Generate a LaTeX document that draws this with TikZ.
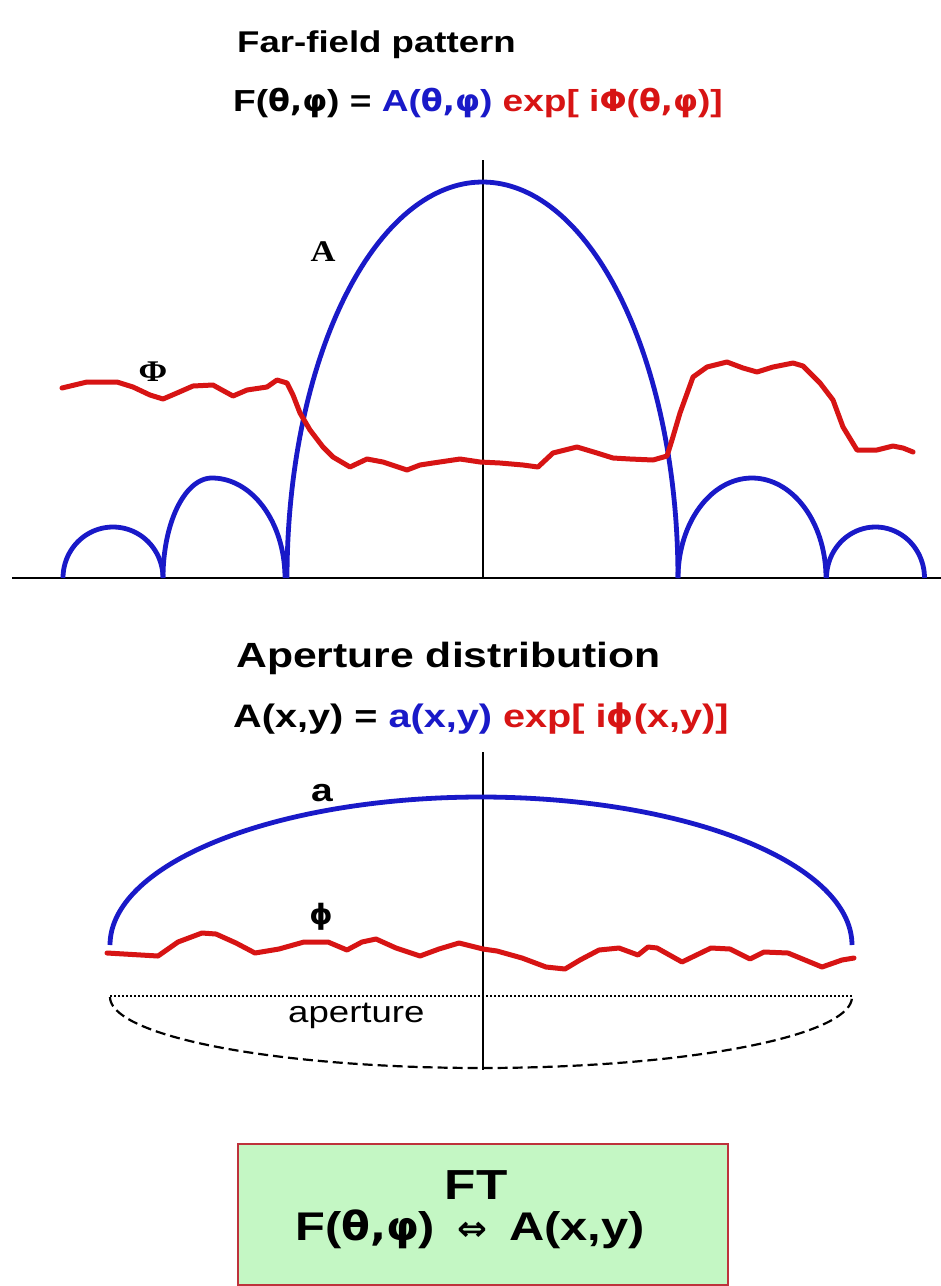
\documentclass[tikz,border=0pt]{standalone}
\usepackage{fontspec}
\setmainfont{Liberation Sans}[FakeStretch=1.22]
\newfontfamily\grk{DejaVu Sans}[FakeStretch=1.05]
\newfontfamily\serifb{Liberation Serif}[FakeStretch=1.15]
\newcommand\gk[1]{{\grk #1}}
\definecolor{cblue}{RGB}{25,25,200}
\definecolor{cred}{RGB}{215,20,20}
\definecolor{boxgreen}{RGB}{196,247,196}
\definecolor{boxred}{RGB}{190,50,60}
\begin{document}
\begin{tikzpicture}[x=1pt,y=-1pt,
  txt/.style={inner sep=0pt, font=\fontsize{32}{38}\selectfont\bfseries, anchor=base west},
  lbl/.style={inner sep=0pt, font=\fontsize{30}{36}\selectfont\serifb\bfseries, anchor=base},
  bluecurve/.style={draw=cblue, line width=4.8pt, line join=round},
  redcurve/.style={draw=cred, line width=5pt, line join=round, line cap=round},
  axisline/.style={draw=black, line width=2.2pt}]
\useasboundingbox[fill=white] (0,0) rectangle (941,1286);

% ---------- titles and formulas ----------
\node[txt, font=\fontsize{30}{36}\selectfont\bfseries] (t1) at (237,52) {Far-field pattern};
\node[txt, font=\fontsize{30.4}{36}\selectfont\bfseries] (f1) at (233,111) {F(\gk{θ,φ}) = \textcolor{cblue}{A(\gk{θ,φ})} \textcolor{cred}{exp[ i\gk{Φ}(\gk{θ,φ})]}};
\node[txt, font=\fontsize{35}{40}\selectfont\bfseries] (t2) at (236,667) {Aperture distribution};
\node[txt, font=\fontsize{32.5}{38}\selectfont\bfseries] (f2) at (233,727) {A(x,y) = \textcolor{cblue}{a(x,y)} \textcolor{cred}{exp[ i\gk{ϕ}(x,y)]}};

% ---------- far-field plot ----------
\draw[axisline] (12,578) -- (941,578);
\draw[axisline] (483,160) -- (483,578);
% main lobe
\draw[bluecurve] plot[domain=0:180, samples=140, variable=\t] ({482.5+195.5*cos(\t)},{578-396*sin(\t)});
% side lobes
\draw[bluecurve] plot[domain=180:90, samples=40, variable=\t] ({212+49*cos(\t)},{578-100*sin(\t)})
  -- plot[domain=90:0, samples=40, variable=\t] ({212+73*cos(\t)},{578-100*sin(\t)});
\draw[bluecurve] plot[domain=180:0, samples=60, variable=\t] ({113+50*cos(\t)},{578-51*sin(\t)});
\draw[bluecurve] plot[domain=180:0, samples=70, variable=\t] ({752+74*cos(\t)},{578-100*sin(\t)});
\draw[bluecurve] plot[domain=180:0, samples=60, variable=\t] ({875.5+49*cos(\t)},{578-51*sin(\t)});
% phase
\draw[redcurve] plot coordinates {(62,388) (87,382) (117,382) (133,387) (150,395) (163,399) (177,393) (193,386) (213,385) (222,390) (233,396) (247,390) (267,387) (277,380) (287,383) (293,395) (300,413) (310,430) (323,447) (333,457) (350,467) (367,459) (383,462) (407,470) (420,465) (433,463) (460,459) (480,462) (500,463) (523,465) (538,467) (553,453) (577,447) (597,453) (613,458) (630,459) (653,460) (667,456) (672,440) (680,413) (693,377) (707,367) (727,362) (743,368) (757,372) (773,367) (793,363) (803,366) (820,383) (833,400) (843,427) (857,450) (877,450) (893,446) (903,448) (913,452)};
\node[lbl] (labA) at (323,261) {A};
\node[lbl] (labPhi) at (153,381) {Φ};

% ---------- aperture plot ----------
\draw[draw=black, line width=2pt] (483,752) -- (483,1070);
\draw[bluecurve] plot[domain=180:0, samples=140, variable=\t] ({481+371*cos(\t)},{945-148*sin(\t)});
\draw[redcurve] plot coordinates {(107,953) (158,956) (178,942) (202,933) (216,934) (236,943) (255,953) (279,949) (304,942) (328,942) (347,950) (362,942) (376,939) (396,948) (420,956) (439,949) (459,943) (483,949) (497,951) (522,958) (546,967) (565,969) (580,960) (599,950) (619,948) (638,955) (648,947) (657,948) (682,962) (711,948) (730,949) (750,959) (764,952) (788,953) (822,967) (842,960) (854,958)};
\draw[black, line width=2pt, dash pattern=on 2pt off 2pt] (110,996) -- (852,996);
\draw[black, line width=2.2pt, dash pattern=on 10pt off 5pt] plot[domain=180:360, samples=100, variable=\t] ({481+371*cos(\t)},{997-71*sin(\t)});
\node[inner sep=0pt, anchor=base west, font=\fontsize{30}{36}\selectfont] (aplab) at (288,1022) {aperture};
\node[inner sep=0pt, anchor=base, font=\fontsize{32}{38}\selectfont\bfseries] (laba) at (322,801) {a};
\node[inner sep=0pt, anchor=base, font=\fontsize{28}{34}\selectfont\bfseries\grk] (labphi) at (321,924) {ϕ};

% ---------- FT box ----------
\node[draw=boxred, line width=2pt, fill=boxgreen, minimum width=490, minimum height=141, anchor=north west, inner sep=0pt] (ftbox) at (237,1143) {};
\node[txt, anchor=base, font=\fontsize{42}{48}\selectfont\bfseries] (ft) at (476,1199) {FT};
\node[txt, anchor=base, font=\fontsize{40}{46}\selectfont\bfseries] (ftl) at (470,1240) {F(\gk{θ,φ})\hspace{22pt}{\grk\fontsize{34}{38}\selectfont ⇔}\hspace{22pt}A(x,y)};
\end{tikzpicture}
\end{document}
